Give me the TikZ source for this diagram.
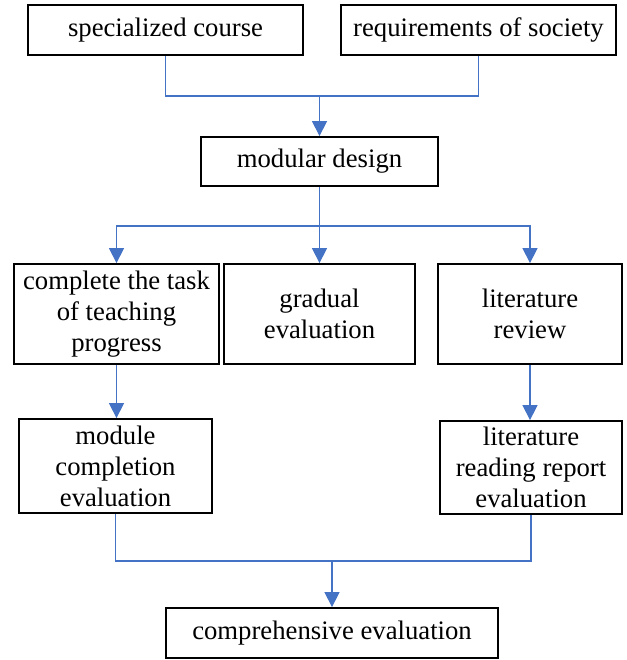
\documentclass[tikz,border=0pt]{standalone}
\usepackage{fontspec}
\setmainfont{Liberation Serif}
\usetikzlibrary{arrows.meta}
\definecolor{lineblue}{HTML}{4472C4}
\tikzset{
  box/.style={draw=black, line width=1.8pt, inner sep=0pt, align=center,
    font=\fontsize{26.7}{31}\selectfont},
  conn/.style={draw=lineblue, line width=1.3pt},
  arr/.style={conn, -{Triangle[length=15pt,width=15pt]}},
}
\begin{document}
\begin{tikzpicture}[x=1pt,y=-1pt]
\useasboundingbox (0,0) rectangle (626,660);
\node[box, minimum width=275pt, minimum height=50pt] (b1) at (165.5,30) {specialized course};
\node[box, minimum width=275pt, minimum height=50pt] (b2) at (478.5,30) {requirements of society};
\node[box, minimum width=237pt, minimum height=49pt] (b3) at (319.5,161.5) {modular design};
\node[box, minimum width=205pt, minimum height=100pt] (b4) at (116.5,314) {complete the task\\of teaching\\progress};
\node[box, minimum width=191pt, minimum height=100pt] (b5) at (319.5,314) {gradual\\evaluation};
\node[box, minimum width=184pt, minimum height=100pt] (b6) at (530,314) {literature\\review};
\node[box, minimum width=193pt, minimum height=94pt] (b7) at (115.5,466) {module\\completion\\evaluation};
\node[box, minimum width=182pt, minimum height=93pt] (b8) at (531,467.5) {literature\\reading report\\evaluation};
\node[box, minimum width=332pt, minimum height=50pt] (b9) at (332,633) {comprehensive evaluation};
\coordinate (j1) at (319.5,96);
\coordinate (j2) at (319.5,226);
\coordinate (j3) at (332,561);
\draw[conn] (b1.south) |- (j1) -| (b2.south);
\draw[arr] (j1) -- (b3.north);
\draw[conn] (b3.south) -- (j2);
\draw[arr] (j2) -| (b4.north);
\draw[arr] (j2) -- (b5.north);
\draw[arr] (j2) -| (b6.north);
\draw[arr] (b4.south) -- (b4.south |- b7.north);
\draw[arr] (b6.south) -- (b6.south |- b8.north);
\draw[conn] (b7.south) |- (j3) -| (b8.south);
\draw[arr] (j3) -- (b9.north);
\end{tikzpicture}
\end{document}
